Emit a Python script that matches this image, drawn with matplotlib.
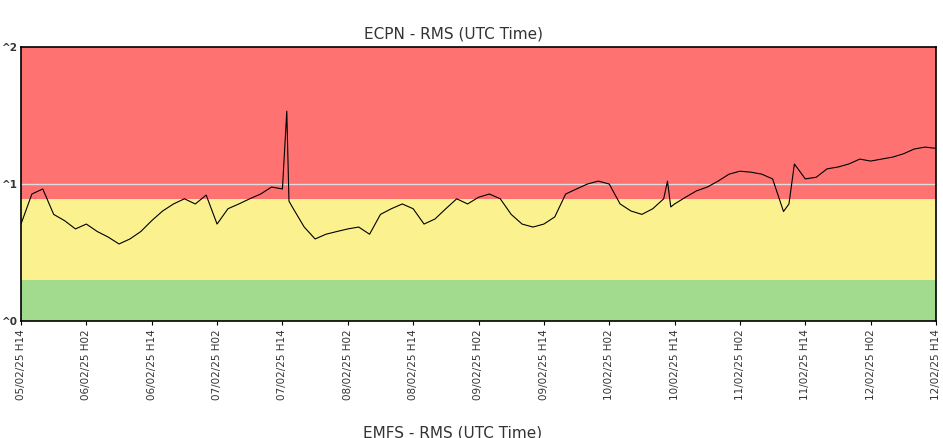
import matplotlib
matplotlib.use("Agg")
import matplotlib.pyplot as plt

hours = [0,2,4,6,8,10,12,14,16,18,20,22,24,26,28,30,32,34,36,38,40,42,44,46,48,48.8,49.2,50,52,54,56,58,60,62,64,66,68,70,72,74,76,78,80,82,84,86,88,90,92,94,96,98,100,102,104,106,108,110,112,114,116,118,118.7,119.3,120,122,124,126,128,130,132,134,136,138,140,141,142,144,146,148,150,152,154,156,158,160,162,164,166,168]
values = [5.1,8.45,9.2,6.0,5.4,4.7,5.1,4.5,4.1,3.65,3.97,4.5,5.4,6.35,7.15,7.8,7.15,8.3,5.1,6.6,7.15,7.8,8.45,9.5,9.2,34,7.5,6.6,4.85,3.97,4.3,4.5,4.7,4.85,4.3,6.0,6.6,7.15,6.6,5.1,5.55,6.6,7.8,7.15,8.0,8.45,7.8,6.0,5.1,4.85,5.1,5.75,8.45,9.2,10,10.5,10,7.15,6.35,6.0,6.6,7.8,10.5,6.8,7.15,8.0,8.9,9.5,10.5,11.8,12.4,12.2,11.8,10.9,6.3,7.15,14.0,10.9,11.2,12.9,13.3,14.0,15.2,14.7,15.2,15.7,16.6,18.0,18.6,18.2]
tick_labels = ["05/02/25 H14","06/02/25 H02","06/02/25 H14","07/02/25 H02","07/02/25 H14",
               "08/02/25 H02","08/02/25 H14","09/02/25 H02","09/02/25 H14","10/02/25 H02",
               "10/02/25 H14","11/02/25 H02","11/02/25 H14","12/02/25 H02","12/02/25 H14"]
bands = [(1, 2, "#a3db8e"), (2, 7.8, "#fbf28f"), (7.8, 100, "#ff7272")]

fig = plt.figure(figsize=(9.43, 4.39), dpi=100)
ax = fig.add_axes([21/943, (439-322)/439, (936-21)/943, (322-48)/439])
ax.set_yscale("log")
ax.set_ylim(1, 100)
ax.set_xlim(0, 168)
for lo, hi, c in bands:
    ax.axhspan(lo, hi, color=c, lw=0, zorder=0)
ax.axhline(10, color="#dddddd", lw=1, zorder=1)
ax.plot(hours, values, color="black", lw=0.8, zorder=2)
ax.set_xticks([12*i for i in range(len(tick_labels))])
ax.set_xticklabels(tick_labels, rotation=90, fontsize=7.5, color="#333333")
ax.tick_params(axis="x", length=3, pad=2)
ax.set_yticks([])
ax.set_yticks([], minor=True)
for v, lab in [(1, "^0"), (10, "^1"), (100, "^2")]:
    ax.annotate(lab, xy=(0, v), xycoords=("axes fraction", "data"), xytext=(-2, 0),
                textcoords="offset points", ha="right", va="center", fontsize=7.5,
                fontweight="bold", color="#333333", annotation_clip=False)
for s in ax.spines.values():
    s.set_linewidth(1.2)
fig.text(453/943, 1-34/439, "ECPN - RMS (UTC Time)", ha="center", va="center", fontsize=11, color="#333333")
fig.text(453/943, 1-433/439, "EMFS - RMS (UTC Time)", ha="center", va="center", fontsize=11, color="#333333")
fig.savefig("out.png", dpi=100)
